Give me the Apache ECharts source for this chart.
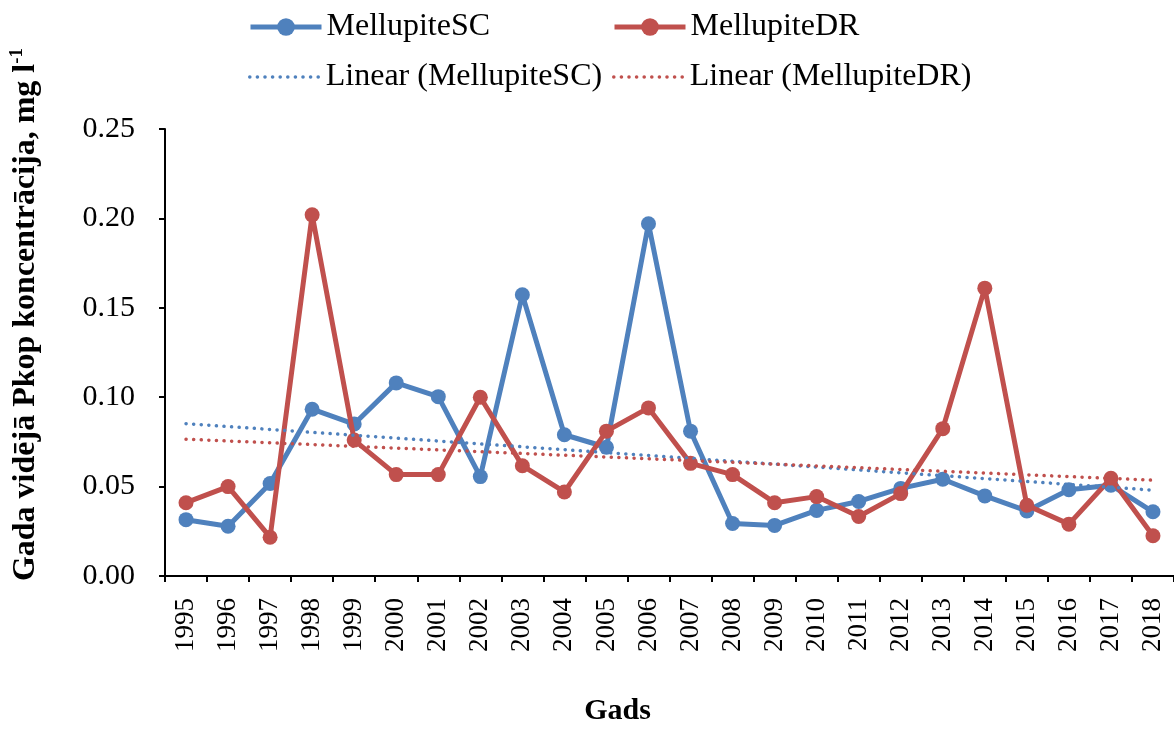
<!DOCTYPE html>
<html>
<head>
<meta charset="utf-8">
<script src="https://cdn.jsdelivr.net/npm/echarts@6/dist/echarts.min.js"></script>
<style>
html,body{margin:0;padding:0;background:#fff;}
#chart{width:1174px;height:731px;}
</style>
</head>
<body>
<div id="chart"></div>
<script>
var years = ['1995','1996','1997','1998','1999','2000','2001','2002','2003','2004','2005','2006',
  '2007','2008','2009','2010','2011','2012','2013','2014','2015','2016','2017','2018'];
var mellupiteSC = [0.0315,0.0278,0.0517,0.0933,0.0850,0.1080,0.1003,0.0556,0.1573,0.0790,0.0720,0.1970,
  0.0810,0.0294,0.0283,0.0367,0.0417,0.0490,0.0541,0.0448,0.0364,0.0482,0.0508,0.0359];
var mellupiteDR = [0.0410,0.0500,0.0217,0.2020,0.0760,0.0567,0.0567,0.1000,0.0617,0.0470,0.0810,0.0940,
  0.0630,0.0567,0.0410,0.0444,0.0333,0.0461,0.0824,0.1610,0.0396,0.0290,0.0547,0.0225];
// Trend line end values (at 1995 and 2018)
var trendSCEnds = [0.0852, 0.0480];
var trendDREnds = [0.0765, 0.0536];
var yTicks = ['0.00','0.05','0.10','0.15','0.20','0.25'];

function endsToSeries(ends){
  var arr = years.map(function(){ return null; });
  arr[0] = ends[0];
  arr[years.length-1] = ends[1];
  return arr;
}

var FONT = 'Liberation Serif';
var blue = '#4F81BD', red = '#C0504D';
var DOT = [0.1, 7.5];

var chart = echarts.init(document.getElementById('chart'), null, {renderer:'canvas'});

function legendAt(name, left, top, trend, color){
  var item = trend
    ? {name:name, itemStyle:{opacity:0}, lineStyle:{color:color, width:3.5, type:DOT, cap:'round'}}
    : {name:name, itemStyle:{color:color}, lineStyle:{color:color, width:5}};
  return {
    data:[item], left:left, top:top, padding:0, itemWidth:71, itemHeight:22,
    textStyle:{fontFamily:FONT, fontSize:32, color:'#000', lineHeight:34}
  };
}

chart.setOption({
  animation:false,
  backgroundColor:'#fff',
  legend:[
    legendAt('MellupiteSC', 248, 10, false, blue),
    legendAt('MellupiteDR', 612, 10, false, red),
    legendAt('Linear (MellupiteSC)', 248, 60, true, blue),
    legendAt('Linear (MellupiteDR)', 612, 60, true, red)
  ],
  grid:{left:162, right:-8, top:129, bottom:154, containLabel:false},
  xAxis:{
    type:'category', data:years, boundaryGap:true,
    name:'Gads', nameLocation:'middle', nameGap:120,
    nameTextStyle:{fontFamily:FONT, fontSize:30, fontWeight:'bold', color:'#000', padding:[0,104,0,0]},
    axisLine:{lineStyle:{color:'#000', width:2}},
    axisTick:{show:true, inside:false, length:6, alignWithLabel:false, lineStyle:{color:'#000', width:2}},
    axisLabel:{rotate:90, interval:0, margin:22, fontFamily:FONT, fontSize:27, color:'#000'},
    splitLine:{show:false}
  },
  yAxis:{
    type:'value', min:0, max:0.25, interval:0.05,
    name:'{n|Gada vidējā Pkop koncentrācija, mg l}{s|-1}',
    nameLocation:'middle', nameGap:122,
    nameTextStyle:{fontFamily:FONT, fontSize:32, fontWeight:'bold', color:'#000', padding:[0,0,0,76],
      rich:{
        n:{fontFamily:FONT, fontSize:32, fontWeight:'bold', color:'#000'},
        s:{fontFamily:FONT, fontSize:19, fontWeight:'bold', color:'#000', padding:[0,0,16,0]}
      }},
    axisLine:{show:true, lineStyle:{color:'#000', width:2}},
    axisTick:{show:true, inside:false, length:6, lineStyle:{color:'#000', width:2}},
    axisLabel:{margin:30, fontFamily:FONT, fontSize:30, color:'#000',
      formatter:function(v){ return yTicks[Math.round(v/0.05)]; }},
    splitLine:{show:false}
  },
  series:[
    {name:'MellupiteSC', type:'line', data:mellupiteSC, symbol:'circle', symbolSize:15, z:3,
      lineStyle:{color:blue, width:5}, itemStyle:{color:blue}},
    {name:'MellupiteDR', type:'line', data:mellupiteDR, symbol:'circle', symbolSize:15, z:4,
      lineStyle:{color:red, width:5}, itemStyle:{color:red}},
    {name:'Linear (MellupiteSC)', type:'line', data:endsToSeries(trendSCEnds), connectNulls:true,
      symbol:'none', z:5, lineStyle:{color:blue, width:3.5, type:DOT, cap:'round'}, itemStyle:{color:blue}},
    {name:'Linear (MellupiteDR)', type:'line', data:endsToSeries(trendDREnds), connectNulls:true,
      symbol:'none', z:5, lineStyle:{color:red, width:3.5, type:DOT, cap:'round'}, itemStyle:{color:red}}
  ]
});
</script>
</body>
</html>
